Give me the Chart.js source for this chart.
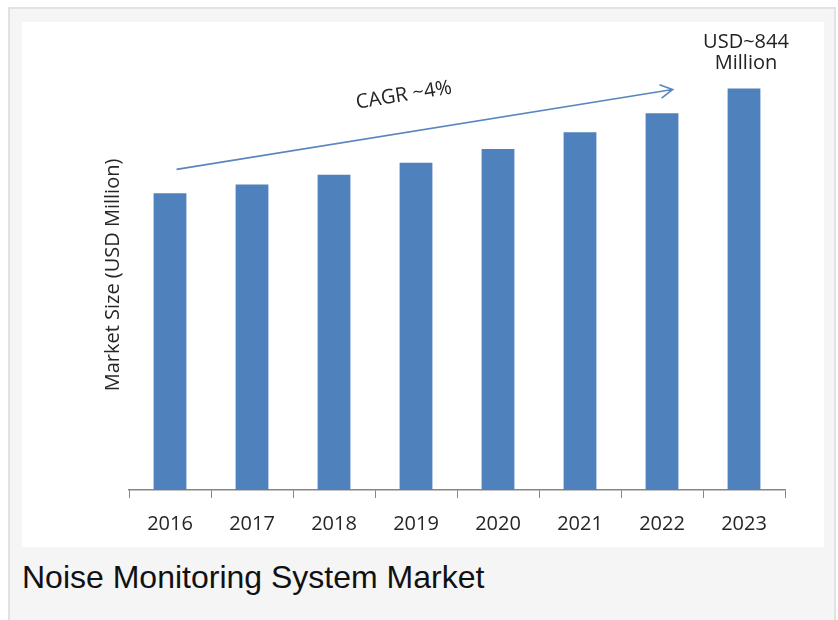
<!DOCTYPE html>
<html>
<head>
<meta charset="utf-8">
<script src="https://cdn.jsdelivr.net/npm/chart.js@4"></script>
<style>
  body { margin: 0; background: #fff; width: 838px; height: 620px; overflow: hidden; }
  #panel { position: absolute; left: 8px; top: 7px; width: 824px; height: 620px;
           background: #f5f5f5; border: 2px solid #e2e2e2; border-bottom: none; }
  #box { position: absolute; left: 22px; top: 22px; width: 802px; height: 525px; background: #fff; overflow: hidden; }
  #caption { position: absolute; left: 22px; top: 559px; font: 32px "Liberation Sans", Arial, sans-serif; color: #111; }
</style>
</head>
<body>
<div id="panel"></div>
<div id="box"><canvas id="myChart" width="802" height="530"></canvas></div>
<div id="caption">Noise Monitoring System Market</div>
<script>
// market size, USD million
const years = ["2016", "2017", "2018", "2019", "2020", "2021", "2022", "2023"];
const marketSize = [624, 642, 663, 688, 717, 752, 792, 844];
const lastLabel = ["USD~844", "Million"];
const cagrText = "CAGR ~4%";
// arrow ends as [category index, value]
const arrowFrom = [0.08, 674];
const arrowTo = [6.13, 842];

const blue = "#4f81bd";

const notes = {
    id: "notes",
    afterDatasetsDraw(chart) {
        const ctx = chart.ctx;
        const xs = chart.scales.x, ys = chart.scales.y;
        const x1 = xs.getPixelForValue(arrowFrom[0]), y1 = ys.getPixelForValue(arrowFrom[1]);
        const x2 = xs.getPixelForValue(arrowTo[0]), y2 = ys.getPixelForValue(arrowTo[1]);
        const ang = Math.atan2(y2 - y1, x2 - x1);
        ctx.save();
        ctx.strokeStyle = "#5a86bf";
        ctx.lineWidth = 1.6;
        ctx.beginPath();
        ctx.moveTo(x1, y1);
        ctx.lineTo(x2, y2);
        ctx.moveTo(x2 - 14 * Math.cos(ang - 0.5), y2 - 14 * Math.sin(ang - 0.5));
        ctx.lineTo(x2, y2);
        ctx.lineTo(x2 - 14 * Math.cos(ang + 0.5), y2 - 14 * Math.sin(ang + 0.5));
        ctx.stroke();

        // CAGR text along the arrow
        ctx.fillStyle = "#222";
        ctx.font = "20px 'Open Sans'";
        ctx.textAlign = "center";
        ctx.textBaseline = "middle";
        const mx = x1 + (x2 - x1) * 0.47, my = y1 + (y2 - y1) * 0.47;
        ctx.translate(mx, my);
        ctx.rotate(ang);
        ctx.fillText(cagrText, 0, -37);
        ctx.restore();

        // label over the last bar
        const bar = chart.getDatasetMeta(0).data[marketSize.length - 1];
        ctx.save();
        ctx.fillStyle = "#222";
        ctx.font = "20px 'Open Sans'";
        ctx.textAlign = "center";
        ctx.textBaseline = "middle";
        ctx.fillText(lastLabel[0], bar.x + 2, bar.y - 46);
        ctx.fillText(lastLabel[1], bar.x + 2, bar.y - 25);
        ctx.restore();
    }
};

new Chart("myChart", {
    type: "bar",
    data: {
        labels: years,
        datasets: [{
            data: marketSize,
            backgroundColor: blue,
            categoryPercentage: 1,
            barPercentage: 0.4
        }]
    },
    options: {
        responsive: false,
        animation: false,
        layout: { padding: { left: 75, right: 39, top: 38, bottom: 2 } },
        plugins: { legend: { display: false }, tooltip: { enabled: false } },
        scales: {
            x: {
                grid: { display: true, drawOnChartArea: false, tickLength: 8, color: "#868686", offset: true },
                border: { display: true, color: "#868686", width: 1.5 },
                ticks: { color: "#262626", font: { family: "Open Sans", size: 20 }, padding: 14 }
            },
            y: {
                min: 0,
                max: 904,
                grid: { display: false, drawTicks: false },
                border: { display: false },
                ticks: { display: false },
                title: { display: true, text: "Market Size (USD Million)", color: "#262626",
                         font: { family: "Open Sans", size: 20 } }
            }
        }
    },
    plugins: [notes]
});
</script>
</body>
</html>
